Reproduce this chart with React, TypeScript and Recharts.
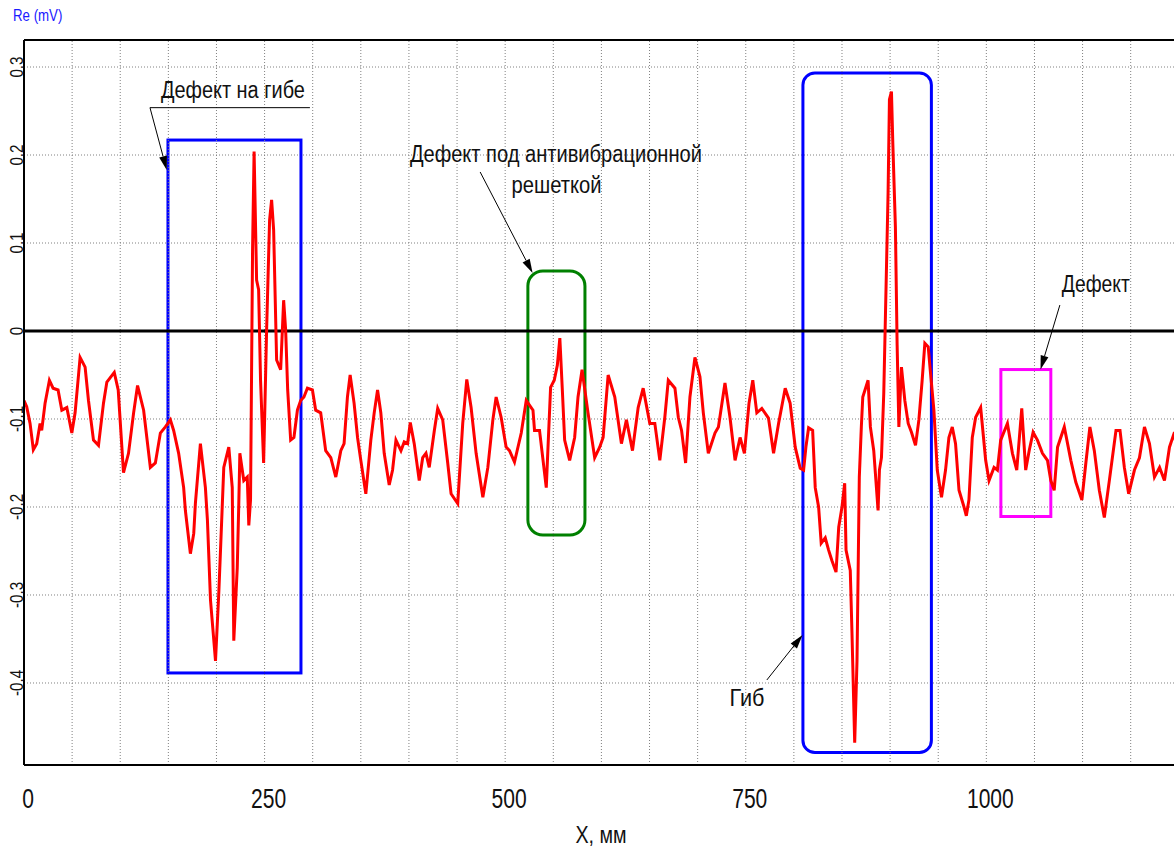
import { LineChart, Line, XAxis, YAxis, CartesianGrid, ReferenceLine, ReferenceArea, ReferenceDot } from 'recharts'

// position along the pipe, mm
const xMm = [
  0, 2.8, 6.3, 9.7, 13.2, 16.7, 18.4, 21.9, 26.4, 30.2, 35.4, 39.3, 44.5, 49.7, 53.1, 58.3, 63.5, 67.0, 72.2, 77.4,
  82.6, 86.1, 93.8, 97.9, 103.4, 108.6, 113.9, 118.0, 124.3, 131.3, 136.5, 141.7, 146.9, 152.1, 155.5, 160.7, 165.9, 167.7, 172.9, 176.4,
  178.1, 183.3, 188.5, 190.6, 193.8, 199.0, 202.4, 204.2, 207.6, 212.8, 216.4, 218.0, 221.6, 223.2, 224.3, 228.4, 232.0, 233.6, 235.4, 237.5,
  239.1, 241.7, 243.8, 245.8, 249.0, 252.1, 255.2, 257.3, 259.4, 262.5, 266.7, 269.8, 271.9, 274.0, 277.1, 280.5, 284.1, 287.5, 290.9, 294.5,
  299.7, 303.1, 308.3, 313.5, 318.8, 324.0, 329.2, 332.6, 336.1, 338.9, 343.0, 346.6, 350.0, 355.2, 360.4, 363.9, 367.4, 370.8, 374.3, 379.5,
  383.0, 386.5, 391.7, 395.1, 398.6, 401.4, 405.5, 410.7, 414.3, 417.7, 421.1, 426.4, 429.9, 435.1, 440.3, 443.8, 450.7, 455.9, 460.1, 464.6,
  469.8, 476.8, 482.0, 487.2, 490.6, 495.8, 501.0, 504.5, 509.7, 516.7, 521.9, 528.9, 530.5, 535.7, 542.7, 547.2, 551.0, 554.2, 556.8, 559.4,
  561.8, 567.0, 572.2, 575.7, 579.9, 586.1, 593.0, 598.2, 601.8, 607.0, 613.9, 620.8, 626.0, 632.3, 638.2, 643.4, 650.3, 655.5, 660.7, 665.9,
  669.5, 676.4, 679.9, 683.3, 687.5, 692.0, 697.2, 702.4, 705.9, 711.1, 718.0, 721.6, 728.4, 733.6, 738.9, 744.1, 748.6, 753.4, 757.3, 761.5,
  766.7, 773.6, 778.9, 784.1, 791.0, 796.1, 801.4, 806.6, 810.1, 812.5, 815.3, 819.5, 822.2, 825.7, 828.4, 832.6, 836.1, 839.6, 843.8, 846.6,
  850.0, 852.8, 854.2, 858.6, 860.4, 863.2, 865.6, 868.0, 870.1, 871.6, 877.1, 879.5, 883.0, 887.5, 888.9, 891.0, 893.4, 897.9, 899.3, 901.4,
  902.8, 905.5, 907.3, 909.1, 911.8, 915.3, 918.8, 922.2, 926.4, 929.9, 933.3, 936.1, 939.6, 942.0, 945.5, 949.0, 953.4, 957.6, 961.1, 964.6,
  968.0, 971.6, 976.8, 979.2, 981.9, 985.4, 988.9, 994.1, 999.3, 1002.8, 1008.0, 1011.5, 1014.9, 1021.9, 1027.1, 1031.6, 1036.8, 1040.9, 1044.5, 1048.6,
  1053.1, 1058.3, 1063.5, 1067.0, 1070.5, 1074.0, 1081.0, 1087.8, 1093.0, 1099.3, 1103.4, 1107.6, 1112.2, 1117.4, 1122.6, 1127.8, 1134.7, 1138.9, 1143.4, 1147.9,
  1153.9, 1159.1, 1164.3, 1169.5, 1174.7, 1180.0, 1185.1, 1190.3, 1195.5, 1197.9,
]

// Re, mV
const reMv = [
  -0.079, -0.086, -0.105, -0.135, -0.128, -0.105, -0.113, -0.082, -0.056, -0.065, -0.067, -0.090, -0.087, -0.116, -0.093, -0.030, -0.041, -0.079, -0.124, -0.130,
  -0.082, -0.058, -0.047, -0.067, -0.161, -0.139, -0.093, -0.062, -0.090, -0.155, -0.150, -0.116, -0.109, -0.101, -0.113, -0.139, -0.178, -0.204, -0.253, -0.230,
  -0.196, -0.128, -0.178, -0.215, -0.306, -0.375, -0.298, -0.249, -0.155, -0.132, -0.178, -0.352, -0.269, -0.196, -0.139, -0.170, -0.166, -0.221, -0.192, 0.092,
  0.204, 0.058, 0.047, -0.056, -0.150, 0.001, 0.126, 0.149, 0.115, -0.033, -0.044, 0.035, 0.001, -0.067, -0.124, -0.121, -0.090, -0.079, -0.075, -0.065,
  -0.067, -0.090, -0.093, -0.136, -0.144, -0.166, -0.136, -0.128, -0.075, -0.050, -0.082, -0.121, -0.147, -0.185, -0.124, -0.093, -0.067, -0.093, -0.139, -0.175,
  -0.158, -0.124, -0.136, -0.126, -0.128, -0.104, -0.128, -0.170, -0.144, -0.139, -0.155, -0.113, -0.088, -0.101, -0.150, -0.185, -0.196, -0.105, -0.055, -0.087,
  -0.139, -0.189, -0.155, -0.101, -0.075, -0.098, -0.132, -0.136, -0.149, -0.116, -0.079, -0.090, -0.113, -0.113, -0.178, -0.064, -0.056, -0.039, -0.008, -0.067,
  -0.124, -0.147, -0.121, -0.075, -0.044, -0.093, -0.144, -0.132, -0.121, -0.050, -0.075, -0.128, -0.101, -0.136, -0.087, -0.065, -0.105, -0.105, -0.147, -0.098,
  -0.056, -0.065, -0.098, -0.113, -0.150, -0.075, -0.030, -0.052, -0.093, -0.139, -0.116, -0.109, -0.059, -0.098, -0.147, -0.121, -0.139, -0.082, -0.056, -0.093,
  -0.088, -0.099, -0.139, -0.105, -0.065, -0.082, -0.132, -0.156, -0.158, -0.132, -0.110, -0.113, -0.178, -0.200, -0.241, -0.235, -0.249, -0.261, -0.274, -0.223,
  -0.200, -0.173, -0.249, -0.272, -0.344, -0.468, -0.375, -0.166, -0.109, -0.075, -0.056, -0.109, -0.136, -0.204, -0.158, -0.144, -0.071, 0.157, 0.263, 0.272,
  0.214, 0.118, -0.016, -0.109, -0.041, -0.079, -0.105, -0.115, -0.130, -0.101, -0.056, -0.014, -0.018, -0.048, -0.090, -0.158, -0.189, -0.158, -0.121, -0.109,
  -0.128, -0.181, -0.200, -0.210, -0.192, -0.121, -0.098, -0.087, -0.147, -0.170, -0.155, -0.158, -0.124, -0.105, -0.139, -0.158, -0.088, -0.158, -0.136, -0.115,
  -0.124, -0.139, -0.147, -0.170, -0.181, -0.132, -0.109, -0.147, -0.172, -0.192, -0.150, -0.109, -0.136, -0.181, -0.212, -0.170, -0.113, -0.113, -0.155, -0.185,
  -0.158, -0.144, -0.109, -0.128, -0.166, -0.155, -0.170, -0.132, -0.115, -0.139,
]

const xTicks = [0, 250, 500, 750, 1000]
const yTicks = [-0.4, -0.3, -0.2, -0.1, 0, 0.1, 0.2, 0.3]
const gridX = [50, 100, 150, 200, 250, 300, 350, 400, 450, 500, 550, 600, 650, 700, 750, 800, 850, 900, 950, 1000, 1050, 1100, 1150]

// highlighted zones
const zones = [
  { x1: 149.6, x2: 287.8, y1: -0.3886, y2: 0.217, color: '#0000ff', r: 0 },
  { x1: 523.6, x2: 582.9, y1: -0.2318, y2: 0.0682, color: '#008000', r: 15 },
  { x1: 809.4, x2: 942.9, y1: -0.479, y2: 0.2932, color: '#0000ff', r: 12 },
  { x1: 1015.1, x2: 1067.0, y1: -0.2108, y2: -0.0438, color: '#ff00ff', r: 0 },
]

const notes = [
  { x: 217.1, y: 0.2648, text: 'Дефект на гибе' },
  { x: 552.7, y: 0.1924, text: 'Дефект под антивибрационной' },
  { x: 553.4, y: 0.1565, text: 'решеткой' },
  { x: 751.2, y: -0.426, text: 'Гиб' },
  { x: 1113.8, y: 0.0447, text: 'Дефект' },
]
// rendered widths of the notes (px), the source uses a condensed face
const noteWidths = [144, 292, 90, 35, 68]

const arrows = [
  { from: [130.9, 0.2538], to: [148.3, 0.183] },
  { from: [474.0, 0.1807], to: [528.5, 0.0659] },
  { from: [771.9, -0.3966], to: [809.0, -0.3455] },
  { from: [1076.4, 0.0295], to: [1056.3, -0.0438] },
]

const data = xMm.map((x, i) => ({ x, re: reMv[i] }))

const FONT = '"Liberation Sans Narrow", "Arial Narrow", "Liberation Sans", Arial, sans-serif'

const XTick = ({ x, y, payload }: any) => (
  <g transform={`translate(${x + 4}, ${y + 35}) scale(0.78, 1)`}>
    <text x={0} y={0} textAnchor="middle" fontSize={27} fontFamily={FONT} fill="#111">
      {payload.value}
    </text>
  </g>
)

const YTick = ({ x, y, payload }: any) => (
  <g transform={`translate(${x + 7}, ${y}) rotate(-90) scale(0.8, 1)`}>
    <text x={0} y={0} textAnchor="middle" fontSize={19} fontFamily={FONT} fill="#111">
      {payload.value === 0 ? '0' : String(payload.value)}
    </text>
  </g>
)

const arrowShape = (p: any) => {
  const { x1, y1, x2, y2 } = p
  if (x1 == null) return null
  const a = Math.atan2(y2 - y1, x2 - x1)
  const len = 14
  const w = 4
  const bx = x2 - len * Math.cos(a)
  const by = y2 - len * Math.sin(a)
  const px = -Math.sin(a) * w
  const py = Math.cos(a) * w
  return (
    <g>
      <line x1={x1} y1={y1} x2={bx} y2={by} stroke="#000" strokeWidth={1} />
      <polygon points={`${x2},${y2} ${bx + px},${by + py} ${bx - px},${by - py}`} fill="#000" />
    </g>
  )
}

export default function App() {
  return (
    <div style={{ position: 'absolute', left: 0, top: 0, width: 1174, height: 855, background: '#fff' }}>
      <div
        style={{
          position: 'absolute', left: 13, top: 6, color: '#1a1aff', fontSize: 17, fontFamily: FONT,
          transform: 'scaleX(0.78)', transformOrigin: 'left top', whiteSpace: 'nowrap',
        }}
      >
        Re (mV)
      </div>
      <div
        style={{
          position: 'absolute', left: 501, width: 200, top: 821, textAlign: 'center', fontSize: 24, fontFamily: FONT,
          transform: 'scaleX(0.82)', transformOrigin: 'center top', color: '#111',
        }}
      >
        X, мм
      </div>
      <LineChart width={1174} height={855} data={data} margin={{ top: 40, right: 0, left: 0, bottom: 0 }}>
        <CartesianGrid vertical={false} stroke="#808080" strokeDasharray="1 2" />
        {gridX.map((g) => (
          <ReferenceLine key={g} x={g} stroke="#808080" strokeDasharray="1 2" />
        ))}
        <XAxis
          dataKey="x"
          type="number"
          domain={[0, 1195]}
          ticks={xTicks}
          tick={<XTick />}
          tickLine={false}
          axisLine={{ stroke: '#000', strokeWidth: 2 }}
          height={90}
          allowDataOverflow
        />
        <YAxis
          type="number"
          domain={[-0.4932, 0.3307]}
          ticks={yTicks}
          tick={<YTick />}
          tickLine={false}
          axisLine={{ stroke: '#000', strokeWidth: 2 }}
          width={24}
          allowDataOverflow
        />
        <ReferenceLine y={0.3307} stroke="#000" strokeWidth={2} />
        <ReferenceLine y={0} stroke="#000" strokeWidth={3} />
        {zones.map((z, i) => (
          <ReferenceArea
            key={i}
            x1={z.x1}
            x2={z.x2}
            y1={z.y1}
            y2={z.y2}
            ifOverflow="visible"
            shape={(p: any) => (
              <rect x={p.x} y={p.y} width={p.width} height={p.height} rx={z.r} ry={z.r} fill="none" stroke={z.color} strokeWidth={3} />
            )}
          />
        ))}
        <Line type="linear" dataKey="re" stroke="#ff0000" strokeWidth={3} dot={false} isAnimationActive={false} />
        <ReferenceLine segment={[{ x: 130.9, y: 0.2538 }, { x: 297.1, y: 0.2538 }]} stroke="#000" strokeWidth={1} ifOverflow="visible" />
        {arrows.map((a, i) => (
          <ReferenceLine
            key={i}
            segment={[{ x: a.from[0], y: a.from[1] }, { x: a.to[0], y: a.to[1] }]}
            ifOverflow="visible"
            shape={arrowShape}
          />
        ))}
        {notes.map((n, i) => (
          <ReferenceDot
            key={i}
            x={n.x}
            y={n.y}
            ifOverflow="visible"
            shape={(p: any) => (
              <text
                x={p.cx}
                y={p.cy}
                textAnchor="middle"
                fontSize={23}
                fontFamily={FONT}
                fill="#111"
                textLength={noteWidths[i]}
                lengthAdjust="spacingAndGlyphs"
              >
                {n.text}
              </text>
            )}
          />
        ))}
      </LineChart>
    </div>
  )
}
